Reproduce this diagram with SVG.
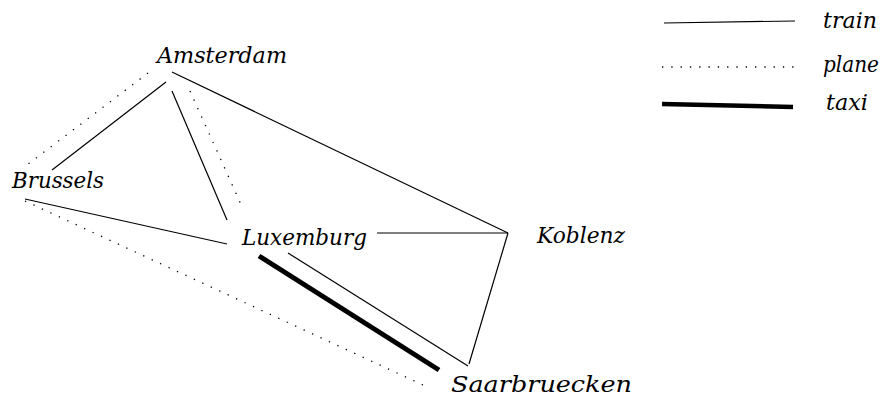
<svg xmlns="http://www.w3.org/2000/svg" width="887" height="400" viewBox="0 0 887 400">
<style>
text{font-family:'DejaVu Serif','Liberation Serif',serif;font-style:italic;font-size:22px;fill:#000}
.train{stroke:#000;stroke-width:1.2;fill:none}
.plane{stroke:#000;stroke-width:1.3;stroke-dasharray:1.3 8;fill:none}
.taxi{stroke:#000;stroke-width:5;fill:none}
</style>
<rect width="887" height="400" fill="#fff"/>
<g id="connectors">
<line class="plane" x1="148" y1="73" x2="27" y2="165"/>
<line class="train" x1="166" y1="82" x2="52" y2="170"/>
<line class="train" x1="172" y1="91" x2="227" y2="220"/>
<line class="plane" x1="190" y1="91" x2="243" y2="209"/>
<line class="train" x1="172" y1="72" x2="508" y2="233"/>
<line class="train" x1="25" y1="199" x2="227" y2="244"/>
<line class="plane" x1="25" y1="201" x2="423" y2="385"/>
<line class="train" x1="377" y1="233" x2="508" y2="233"/>
<line class="train" x1="288" y1="253" x2="468" y2="366"/>
<line class="taxi" x1="259" y1="256" x2="439" y2="370"/>
<line class="train" x1="508" y1="233" x2="469" y2="364"/>
</g>
<g id="Amsterdam"><text x="157" y="63" textLength="130" lengthAdjust="spacingAndGlyphs">Amsterdam</text></g>
<g id="Brussels"><text x="12" y="188" textLength="92" lengthAdjust="spacingAndGlyphs">Brussels</text></g>
<g id="Luxembourg"><text x="242" y="245" textLength="125" lengthAdjust="spacingAndGlyphs">Luxemburg</text></g>
<g id="Koblenz"><text x="537" y="243" textLength="88" lengthAdjust="spacingAndGlyphs">Koblenz</text></g>
<g id="Saarbruecken"><text x="451" y="392" textLength="181" lengthAdjust="spacingAndGlyphs">Saarbruecken</text></g>
<g id="legend">
<line class="train" x1="664" y1="23" x2="795" y2="21"/>
<text x="823" y="28" textLength="54" lengthAdjust="spacingAndGlyphs">train</text>
<line class="plane" x1="662" y1="67" x2="795" y2="67"/>
<text x="823" y="72" textLength="56" lengthAdjust="spacingAndGlyphs">plane</text>
<line class="taxi" x1="662" y1="104" x2="793" y2="107" style="stroke-width:4.5"/>
<text x="826" y="110" textLength="42" lengthAdjust="spacingAndGlyphs">taxi</text>
</g>
</svg>
